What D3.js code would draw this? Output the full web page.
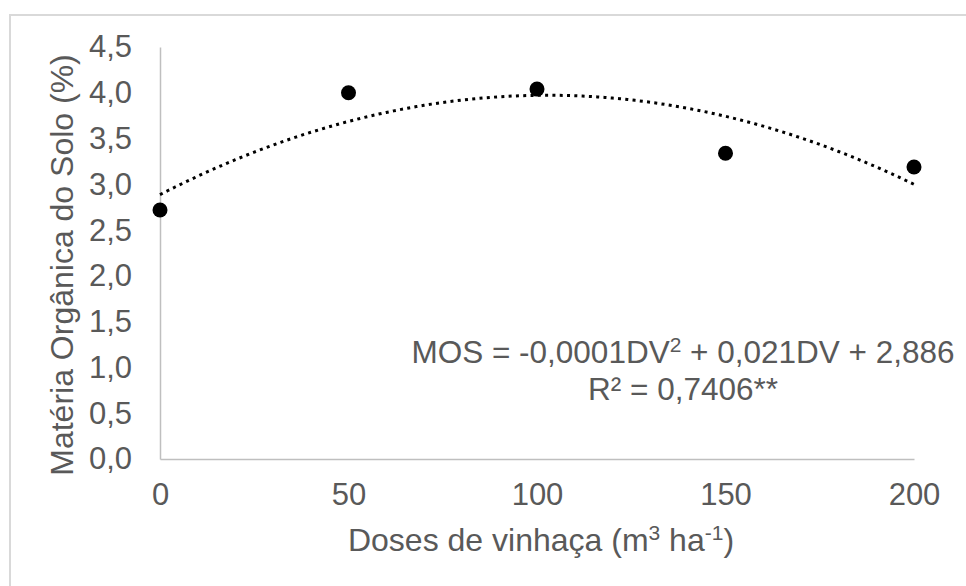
<!DOCTYPE html>
<html lang="pt">
<head>
<meta charset="UTF-8">
<title>Matéria Orgânica do Solo</title>
<script src="https://cdn.jsdelivr.net/npm/d3@7"></script>
<style>
    body { margin: 0; background: #fff; }
    text { font-family: Arial, "Liberation Sans", sans-serif; fill: #595959; }
</style>
</head>
<body>
<svg id="chart" width="966" height="586"></svg>
<script>
    // data
    const doses = [0, 50, 100, 150, 200];
    const mos = [2.72, 4.0, 4.04, 3.34, 3.19];
    const xTicks = [0, 50, 100, 150, 200];
    const yTicks = [0, 0.5, 1, 1.5, 2, 2.5, 3, 3.5, 4, 4.5];

    const svg = d3.select("#chart");

    // chart border (runs off the picture on the right and bottom)
    svg.append("rect")
        .attr("x", 10).attr("y", 15)
        .attr("width", 1000).attr("height", 1000)
        .attr("fill", "none")
        .attr("stroke", "#d9d9d9")
        .attr("stroke-width", 2);

    const x = d3.scaleLinear().domain([0, 200]).range([160, 914]);
    const y = d3.scaleLinear().domain([0, 4.5]).range([459, 47]);

    const fmt = v => d3.format(".1f")(v).replace(".", ",");

    // y axis
    const yAxis = svg.append("g")
        .attr("transform", "translate(160,0)")
        .call(d3.axisLeft(y).tickValues(yTicks).tickFormat(fmt).tickSize(0).tickPadding(28));
    yAxis.select(".domain").attr("stroke", "#bfbfbf").attr("stroke-width", 1.5);
    yAxis.selectAll("text").attr("fill", "#595959").style("font-size", "31px");

    // x axis
    const xAxis = svg.append("g")
        .attr("transform", "translate(0,459)")
        .call(d3.axisBottom(x).tickValues(xTicks).tickFormat(d3.format("d")).tickSize(0).tickPadding(24));
    xAxis.select(".domain").attr("stroke", "#bfbfbf").attr("stroke-width", 1.5);
    xAxis.selectAll("text").attr("fill", "#595959").style("font-size", "31px");

    // quadratic least squares trendline, fitted to the points like Excel does
    function quadFit(xs, ys) {
        const n = xs.length;
        let s = [0, 0, 0, 0, 0], t = [0, 0, 0];
        for (let i = 0; i < n; i++) {
            for (let k = 0; k < 5; k++) s[k] += Math.pow(xs[i], k);
            for (let k = 0; k < 3; k++) t[k] += ys[i] * Math.pow(xs[i], k);
        }
        // normal equations, solved by Cramer's rule
        const M = [[s[0], s[1], s[2]], [s[1], s[2], s[3]], [s[2], s[3], s[4]]];
        const det = m => m[0][0] * (m[1][1] * m[2][2] - m[1][2] * m[2][1])
            - m[0][1] * (m[1][0] * m[2][2] - m[1][2] * m[2][0])
            + m[0][2] * (m[1][0] * m[2][1] - m[1][1] * m[2][0]);
        const D = det(M);
        return [0, 1, 2].map(c => det(M.map((row, r) => row.map((v, j) => j === c ? t[r] : v))) / D);
    }
    const c = quadFit(doses, mos);
    const curve = d3.range(0, 200.5, 2).map(d => [d, c[0] + c[1] * d + c[2] * d * d]);

    svg.append("path")
        .datum(curve)
        .attr("fill", "none")
        .attr("stroke", "#000")
        .attr("stroke-width", 3)
        .attr("stroke-dasharray", "3 4.3")
        .attr("d", d3.line().x(d => x(d[0])).y(d => y(d[1])));

    // points
    svg.append("g").selectAll("circle")
        .data(doses)
        .join("circle")
        .attr("cx", d => x(d))
        .attr("cy", (d, i) => y(mos[i]))
        .attr("r", 7.5)
        .attr("fill", "#000");

    // equation label
    const eq = svg.append("text")
        .attr("x", 683).attr("y", 363)
        .attr("text-anchor", "middle")
        .style("font-size", "31.5px");
    eq.append("tspan").text("MOS = -0,0001DV");
    eq.append("tspan").text("2").attr("dy", -11).style("font-size", "21px");
    eq.append("tspan").text(" + 0,021DV + 2,886").attr("dy", 11);

    svg.append("text")
        .attr("x", 683).attr("y", 400)
        .attr("text-anchor", "middle")
        .style("font-size", "31.5px")
        .text("R² = 0,7406**");

    // axis titles
    const xt = svg.append("text")
        .attr("x", 541).attr("y", 551)
        .attr("text-anchor", "middle")
        .style("font-size", "32px");
    xt.append("tspan").text("Doses de vinhaça (m");
    xt.append("tspan").text("3").attr("dy", -11).style("font-size", "21px");
    xt.append("tspan").text(" ha").attr("dy", 11);
    xt.append("tspan").text("-1").attr("dy", -11).style("font-size", "21px");
    xt.append("tspan").text(")").attr("dy", 11);

    svg.append("text")
        .attr("transform", "translate(73,265) rotate(-90)")
        .attr("text-anchor", "middle")
        .style("font-size", "32px")
        .text("Matéria Orgânica do Solo (%)");
</script>
</body>
</html>
